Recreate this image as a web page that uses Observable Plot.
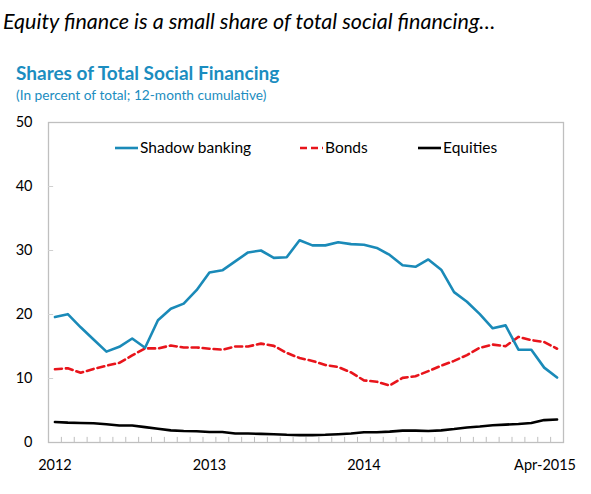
<!DOCTYPE html>
<html><head><meta charset="utf-8">
<script src="https://cdn.jsdelivr.net/npm/d3@7"></script>
<script src="https://cdn.jsdelivr.net/npm/@observablehq/plot@0.6"></script>
<style>
body{margin:0;width:591px;height:494px;position:relative;background:#fff;font-family:Lato,sans-serif;overflow:hidden}
.abs{position:absolute;white-space:nowrap;line-height:1}
#t1{left:3px;top:11px;font-size:21.5px;font-style:italic;color:#000}
#t2{left:16px;top:63px;font-size:19px;font-weight:bold;color:#1b8dc0}
#t3{left:16px;top:88px;font-size:13.7px;color:#1b8dc0}
#chart{position:absolute;left:0;top:108px}
.leg{position:absolute;top:140px;font-size:15.5px;color:#000;display:flex;align-items:center;line-height:1}
.leg svg{margin-right:2px}
</style></head><body>
<div class="abs" id="t1">Equity finance is a small share of total social financing…</div>
<div class="abs" id="t2">Shares of Total Social Financing</div>
<div class="abs" id="t3">(In percent of total; 12-month cumulative)</div>
<div id="chart"></div>
<div id="legend"></div>
<script>
// Monthly, Jan 2012 – Apr 2015 (40 months)
const months = d3.utcMonths(new Date(Date.UTC(2012,0,1)), new Date(Date.UTC(2015,4,1)));
const shadow = [19.6,20.05,18.0,16.1,14.2,14.95,16.25,14.8,19.1,20.9,
  21.7,23.8,26.55,26.9,28.3,29.7,30.0,28.85,28.95,31.6,
  30.8,30.8,31.3,31.0,30.9,30.4,29.3,27.7,27.45,28.6,
  27.0,23.5,22.0,20.05,17.85,18.3,14.5,14.5,11.7,10.15];
const bonds = [11.45,11.6,10.9,11.5,12.0,12.45,13.6,14.7,14.7,15.15,
  14.85,14.85,14.65,14.5,15.0,15.0,15.45,15.1,14.0,13.2,
  12.75,12.1,11.8,10.95,9.7,9.5,8.9,10.1,10.35,11.15,
  12.0,12.75,13.65,14.8,15.3,15.05,16.5,16.0,15.7,14.65];
const equities = [3.2,3.1,3.05,3.0,2.85,2.65,2.65,2.4,2.15,1.9,
  1.8,1.75,1.65,1.65,1.4,1.4,1.35,1.3,1.2,1.15,
  1.15,1.2,1.3,1.4,1.6,1.6,1.7,1.85,1.85,1.8,
  1.9,2.1,2.35,2.5,2.7,2.8,2.9,3.05,3.5,3.6];
const seriesNames = ["Shadow banking","Bonds","Equities"];
const seriesColors = ["#1a8ab8","#e8141b","#000000"];
const yTicks = [0,10,20,30,40,50];
const xTickLabels = ["2012","2013","2014","Apr-2015"];
const xTickIdx = [0,12,24,39];

const rows = months.map((m,i)=>({i, m, shadow:shadow[i], bonds:bonds[i], equities:equities[i]}));
const boundaries = d3.range(0.5, months.length-1, 1);

const chart = Plot.plot({
  width: 591, height: 386,
  marginTop: 14, marginBottom: 52, marginLeft: 48, marginRight: 28,
  style: {fontFamily: "Lato, sans-serif", fontSize: "14px", color: "#000"},
  x: {domain: [-0.5, months.length-0.5], axis: null},
  y: {domain: [0,50], axis: null},
  marks: [
    Plot.frame({stroke: "#bfbfbf", strokeWidth: 1.3}),
    Plot.ruleX(boundaries, {x: d=>d, y1: 0, y2: 0.8, stroke: "#bfbfbf"}),
    Plot.ruleY(yTicks.filter(d=>d>0 && d<50), {y: d=>d, x1: -0.5, x2: -0.1, stroke: "#d0d0d0"}),
    Plot.axisY({ticks: yTicks, tickSize: 0, tickPadding: 16, fontSize: 14.5, label: null}),
    Plot.axisX({ticks: xTickIdx.slice(0,3), tickSize: 0, tickPadding: 17, fontSize: 14.5, label: null,
      tickFormat: d => xTickLabels[xTickIdx.indexOf(d)]}),
    Plot.axisX({ticks: xTickIdx.slice(3), tickSize: 0, tickPadding: 17, fontSize: 14.5, label: null, dx: -12,
      tickFormat: d => xTickLabels[xTickIdx.indexOf(d)]}),
    Plot.line(rows, {x: "i", y: "equities", stroke: seriesColors[2], strokeWidth: 2.6}),
    Plot.line(rows, {x: "i", y: "bonds", stroke: seriesColors[1], strokeWidth: 2.6, strokeDasharray: "7,4"}),
    Plot.line(rows, {x: "i", y: "shadow", stroke: seriesColors[0], strokeWidth: 2.6})
  ]
});
document.getElementById("chart").append(chart);

// legend inside the plot area
const legendLeft = [115, 300, 418];
const dashes = ["none","7,4","none"];
const legend = document.getElementById("legend");
seriesNames.forEach((n,k)=>{
  const d = document.createElement("div");
  d.className = "leg";
  d.style.left = legendLeft[k] + "px";
  d.innerHTML = `<svg width="23" height="16"><line x1="0" x2="23" y1="8" y2="8" stroke="${seriesColors[k]}" stroke-width="2.6" stroke-dasharray="${dashes[k]}"/></svg><span>${n}</span>`;
  legend.append(d);
});
</script>
</body></html>
